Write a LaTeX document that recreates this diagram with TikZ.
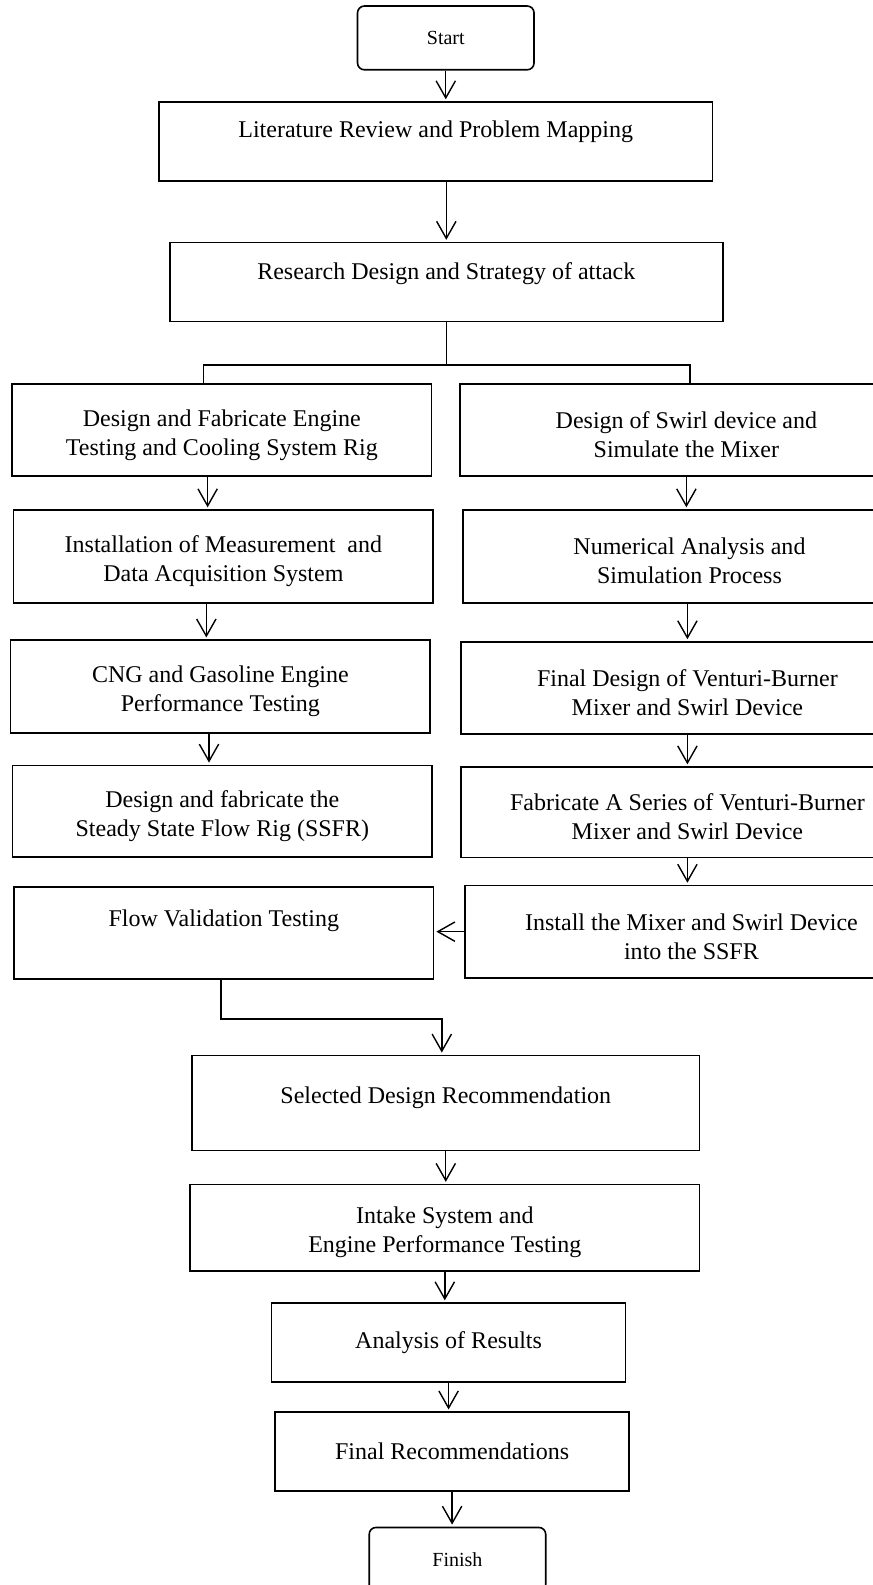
\documentclass[tikz,border=0pt]{standalone}
\usepackage{fontspec}
\setmainfont{Liberation Serif}
\usetikzlibrary{arrows.meta, positioning, calc}

\begin{document}
\begin{tikzpicture}[
    box/.style={
        rectangle, draw=black, line width=0.8pt,
        minimum height=16.2mm,
        inner sep=2pt, align=center,
        font=\fontsize{12}{14.5}\selectfont
    },
    twoline/.style={
        text height=27.5pt
    },
    leftbox/.style={
        box, twoline, minimum width=73.7mm
    },
    rightbox/.style={
        box, twoline, minimum width=79.5mm
    },
    endbox/.style={
        rectangle, rounded corners=1.2mm, draw=black, line width=0.8pt,
        minimum width=31mm, minimum height=11.2mm,
        font=\fontsize{10}{12}\selectfont
    },
    arrow/.style={-{Straight Barb[length=3mm, width=3.4mm]}, line width=0.7pt, shorten >=1pt},
    link/.style={line width=0.7pt}
]

\useasboundingbox (0,0) rectangle (15.32,-27.84);

% --- Top of the flow ---
\node[endbox] (start) at (7.83, -0.666) {Start};
\node[box, minimum width=97.3mm, minimum height=13.85mm, text depth=12.6pt] (litreview) at (7.653, -2.486)
    {Literature Review and Problem Mapping};
\node[box, minimum width=97.1mm, minimum height=13.85mm, text depth=10.6pt] (research) at (7.839, -4.954)
    {Research Design and Strategy of attack};

\draw[arrow] (start.south) -- (start.south |- litreview.north);
\draw[arrow] (litreview.south -| research.north) -- (research.north);

% --- Left branch ---
\node[leftbox] (rig) at (3.897, -7.555)
    {Design and Fabricate Engine\\Testing and Cooling System Rig};
\node[leftbox, minimum height=16.3mm] (daq) at (3.924, -9.775)
    {Installation of Measurement~ and\\Data Acquisition System};
\node[leftbox, minimum height=16.3mm] (perftest) at (3.871, -12.061)
    {CNG and Gasoline Engine\\Performance Testing};
\node[leftbox, minimum height=16.1mm] (ssfr) at (3.905, -14.249)
    {Design and fabricate the\\Steady State Flow Rig (SSFR)};
\node[box, minimum width=73.7mm, minimum height=16.1mm, text depth=15pt] (flowtest) at (3.931, -16.387)
    {Flow Validation Testing};

% --- Right branch ---
\node[rightbox] (swirl) at (12.056, -7.555)
    {Design of Swirl device and\\Simulate the Mixer};
\node[rightbox, minimum height=16.3mm] (numerical) at (12.110, -9.775)
    {Numerical Analysis and\\Simulation Process};
\node[rightbox, minimum height=16.2mm] (finaldesign) at (12.074, -12.087)
    {Final Design of Venturi-Burner\\Mixer and Swirl Device};
\node[rightbox, minimum height=15.9mm] (fabseries) at (12.074, -14.270)
    {Fabricate A Series of Venturi-Burner\\Mixer and Swirl Device};
\node[rightbox, minimum height=16.2mm] (install) at (12.145, -16.364)
    {Install the Mixer and Swirl Device\\into the SSFR};

% split below the research box
\coordinate (split) at ($(research.south)+(0,-0.75)$);
\draw[link] (research.south) -- (split);
\draw[link] ([xshift=-3.2mm]rig.north) |- (split) -| ([xshift=0.6mm]swirl.north);

\draw[arrow] ([xshift=-2.5mm]rig.south) -- ([xshift=-2.5mm]rig.south |- daq.north);
\draw[arrow] ([xshift=-3mm]daq.south) -- ([xshift=-3mm]daq.south |- perftest.north);
\draw[arrow] ([xshift=-2mm]perftest.south) -- ([xshift=-2mm]perftest.south |- ssfr.north);

\draw[arrow] (swirl.south) -- (swirl.south |- numerical.north);
\draw[arrow] (finaldesign.north |- numerical.south) -- (finaldesign.north);
\draw[arrow] (finaldesign.south) -- (finaldesign.south |- fabseries.north);
\draw[arrow] (fabseries.south) -- (fabseries.south |- install.north);
\draw[arrow] (install.west) -- (install.west -| flowtest.east);

% --- Bottom of the flow ---
\node[box, minimum width=89.1mm, minimum height=16.7mm, text depth=7.6pt] (selected) at (7.830, -19.372)
    {Selected Design Recommendation};
\node[box, twoline, minimum width=89.5mm, minimum height=15.2mm] (intake) at (7.813, -21.568)
    {Intake System and\\Engine Performance Testing};
\node[box, minimum width=62.2mm, minimum height=13.9mm] (analysis) at (7.879, -23.584)
    {Analysis of Results};
\node[box, minimum width=62.2mm, minimum height=13.85mm] (finalrec) at (7.941, -25.498)
    {Final Recommendations};
\node[endbox] (finish) at (8.035, -27.389) {Finish};

\draw[arrow] ([xshift=-0.5mm]flowtest.south) -- ++(0,-0.69) -| ([xshift=-0.7mm]selected.north);
\draw[arrow] (selected.south) -- (selected.south |- intake.north);
\draw[arrow] (intake.south) -- (intake.south |- analysis.north);
\draw[arrow] (analysis.south) -- (analysis.south |- finalrec.north);
\draw[arrow] (finalrec.south) -- (finalrec.south |- finish.north);

\end{tikzpicture}
\end{document}
